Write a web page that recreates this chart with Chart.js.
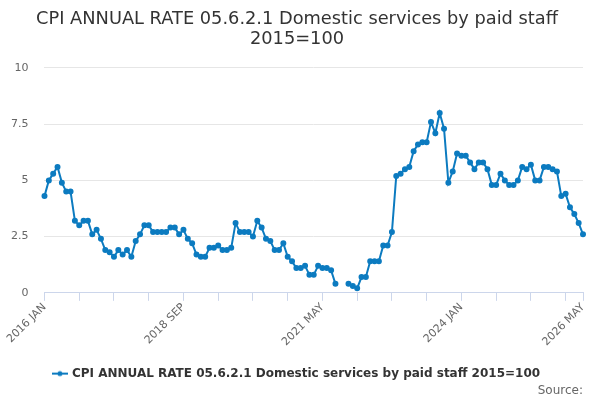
<!DOCTYPE html>
<html>
<head>
<meta charset="utf-8">
<script src="https://cdn.jsdelivr.net/npm/chart.js@4.4.1/dist/chart.umd.min.js"></script>
<style>
  html, body { margin: 0; padding: 0; background: #fff; }
  .chart-container { width: 600px; height: 400px; }
</style>
</head>
<body>
<div class="chart-container">
  <canvas id="chart" width="600" height="400"></canvas>
</div>
<script>
const months = ['JAN', 'FEB', 'MAR', 'APR', 'MAY', 'JUN', 'JUL', 'AUG', 'SEP', 'OCT', 'NOV', 'DEC'];
const startYear = 2016;
const seriesName = 'CPI ANNUAL RATE 05.6.2.1 Domestic services by paid staff 2015=100';
// monthly annual rate, 2016 JAN .. 2026 MAY (null = no value)
const rates = [
  4.3, 5.0, 5.3, 5.6, 4.9, 4.5, 4.5, 3.2, 3.0, 3.2, 3.2, 2.6,
  2.8, 2.4, 1.9, 1.8, 1.6, 1.9, 1.7, 1.9, 1.6, 2.3, 2.6, 3.0,
  3.0, 2.7, 2.7, 2.7, 2.7, 2.9, 2.9, 2.6, 2.8, 2.4, 2.2, 1.7,
  1.6, 1.6, 2.0, 2.0, 2.1, 1.9, 1.9, 2.0, 3.1, 2.7, 2.7, 2.7,
  2.5, 3.2, 2.9, 2.4, 2.3, 1.9, 1.9, 2.2, 1.6, 1.4, 1.1, 1.1,
  1.2, 0.8, 0.8, 1.2, 1.1, 1.1, 1.0, 0.4, null, null, 0.4, 0.3,
  0.2, 0.7, 0.7, 1.4, 1.4, 1.4, 2.1, 2.1, 2.7, 5.2, 5.3, 5.5,
  5.6, 6.3, 6.6, 6.7, 6.7, 7.6, 7.1, 8.0, 7.3, 4.9, 5.4, 6.2,
  6.1, 6.1, 5.8, 5.5, 5.8, 5.8, 5.5, 4.8, 4.8, 5.3, 5.0, 4.8,
  4.8, 5.0, 5.6, 5.5, 5.7, 5.0, 5.0, 5.6, 5.6, 5.5, 5.4, 4.3,
  4.4, 3.8, 3.5, 3.1, 2.6
];
const labels = rates.map((v, i) => (startYear + Math.floor(i / 12)) + ' ' + months[i % 12]);

const lineColor = '#0c7bc0';
const axisColor = '#ccd6eb';
const font = 'DejaVu Sans';

// legend symbol: short line with a dot in the middle
const legendIcon = document.createElement('canvas');
legendIcon.width = 16;
legendIcon.height = 8;
{
  const c = legendIcon.getContext('2d');
  c.strokeStyle = lineColor;
  c.lineWidth = 2;
  c.beginPath();
  c.moveTo(0, 4);
  c.lineTo(16, 4);
  c.stroke();
  c.fillStyle = lineColor;
  c.beginPath();
  c.arc(8, 4, 2.5, 0, Math.PI * 2);
  c.fill();
}

const lastIndex = rates.length - 1;

new Chart(document.getElementById('chart'), {
  type: 'line',
  data: {
    labels: labels,
    datasets: [{
      label: seriesName,
      data: rates,
      borderColor: lineColor,
      backgroundColor: lineColor,
      borderWidth: 2,
      pointRadius: 2,
      pointHoverRadius: 3,
      tension: 0,
      spanGaps: false
    }]
  },
  options: {
    responsive: false,
    animation: false,
    layout: { padding: { left: 11, right: 17, top: 4, bottom: 2 } },
    scales: {
      x: {
        offset: false,
        grid: { drawOnChartArea: false, drawTicks: true, tickLength: 8, color: axisColor },
        border: { color: axisColor },
        ticks: {
          autoSkip: false,
          maxRotation: 45,
          minRotation: 45,
          padding: 0,
          color: '#666',
          font: { family: font, size: 11 },
          callback: function (value, index) {
            if (index % 32 === 0 || index === lastIndex) return labels[index];
            if (index % 8 === 0) return '';
            return null;
          }
        },
        afterFit: function (axis) {
          // let the rotated first label hang into the left margin
          axis.paddingLeft = 0;
          axis.paddingRight = 0;
          axis.height += 15;
        }
      },
      y: {
        min: 0,
        max: 10,
        grid: { color: '#e6e6e6', drawTicks: false },
        border: { display: false },
        ticks: {
          stepSize: 2.5,
          padding: 16,
          color: '#666',
          font: { family: font, size: 11 }
        },
        afterFit: function (axis) {
          // padding is counted on both sides of the labels; keep only the inner gap
          axis.width -= 16;
        }
      }
    },
    plugins: {
      title: {
        display: true,
        text: ['CPI ANNUAL RATE 05.6.2.1 Domestic services by paid staff', '2015=100'],
        color: '#333',
        font: { family: font, size: 17.8, weight: 'normal', lineHeight: 1.15 },
        padding: { top: 5, bottom: 18 }
      },
      subtitle: {
        display: true,
        position: 'bottom',
        align: 'end',
        text: 'Source:',
        color: '#666',
        font: { family: font, size: 12, weight: 'normal' },
        padding: { top: -6, bottom: 0 }
      },
      legend: {
        position: 'bottom',
        labels: {
          usePointStyle: true,
          color: '#333',
          font: { family: font, size: 12, weight: 'bold' },
          padding: 4,
          generateLabels: function (chart) {
            const items = Chart.defaults.plugins.legend.labels.generateLabels(chart);
            items.forEach(it => { it.pointStyle = legendIcon; });
            return items;
          }
        }
      },
      tooltip: { enabled: false }
    }
  }
});
</script>
</body>
</html>
